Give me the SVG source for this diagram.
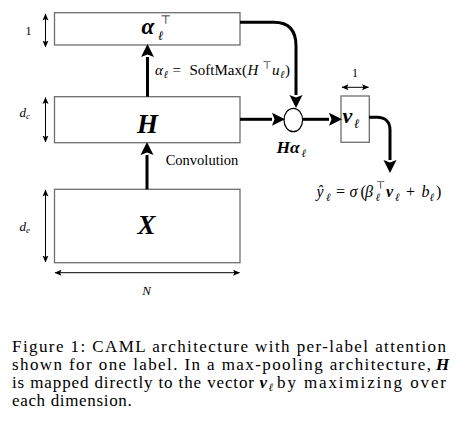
<svg xmlns="http://www.w3.org/2000/svg" width="468" height="431" viewBox="0 0 468 431">
<style>
text{font-family:"Liberation Serif","DejaVu Serif",serif;fill:#000}
.box{fill:#fff;stroke:#6e6e6e;stroke-width:1.3}
.conn{fill:none;stroke:#000;stroke-width:3}
.dim{fill:none;stroke:#000;stroke-width:1}
.bi{font-weight:bold;font-style:italic}
.it{font-style:italic}
.sym{font-family:"DejaVu Sans","Liberation Sans",sans-serif}
.cap{font-size:17px}
</style>
<defs>
<marker id="ah" markerUnits="userSpaceOnUse" markerWidth="14" markerHeight="14" refX="0" refY="6.5" orient="auto" viewBox="0 0 14 13">
<path d="M0,0 L13,6.5 L0,13 L2.5,6.5 z" fill="#000"/>
</marker>
<marker id="sh" markerUnits="userSpaceOnUse" markerWidth="8" markerHeight="8" refX="6.5" refY="3" orient="auto-start-reverse" viewBox="0 0 8 6">
<path d="M0,0 L7,3 L0,6 L1.5,3 z" fill="#000"/>
</marker>
</defs>
<rect width="468" height="431" fill="#fff"/>

<g id="node-alpha">
<rect class="box" x="54.5" y="12.7" width="185.5" height="32.3"/>
<text class="bi" x="141.5" y="34" font-size="23">α</text>
<text class="it" x="158" y="40" font-size="13">ℓ</text>
<text class="sym" x="160.5" y="23.5" font-size="12">⊤</text>
</g>

<g id="node-H">
<rect class="box" x="54.5" y="96.7" width="185.5" height="46"/>
<text class="bi" x="147.5" y="133" font-size="27" text-anchor="middle">H</text>
</g>

<g id="node-X">
<rect class="box" x="54.5" y="189.3" width="185.5" height="73.4"/>
<text class="bi" x="146.5" y="234" font-size="27" text-anchor="middle">X</text>
</g>

<g id="node-circle">
<ellipse cx="293.3" cy="120" rx="9.3" ry="11.7" fill="#fff" stroke="#000" stroke-width="1.2"/>
<text class="bi" x="276.5" y="153" font-size="17.5">Hα</text>
<text class="it" x="301.5" y="157" font-size="11">ℓ</text>
</g>

<g id="node-v">
<rect class="box" x="341" y="96" width="28.3" height="46.3"/>
<text class="bi" x="342.5" y="123" font-size="22">v</text>
<text class="it" x="354" y="128" font-size="13">ℓ</text>
</g>

<g id="dimensions">
<line class="dim" x1="45.5" y1="14" x2="45.5" y2="47" marker-start="url(#sh)" marker-end="url(#sh)"/>
<line class="dim" x1="45.5" y1="97.5" x2="45.5" y2="142" marker-start="url(#sh)" marker-end="url(#sh)"/>
<line class="dim" x1="45.5" y1="190" x2="45.5" y2="262" marker-start="url(#sh)" marker-end="url(#sh)"/>
<line class="dim" x1="55" y1="272.7" x2="239.5" y2="272.7" marker-start="url(#sh)" marker-end="url(#sh)"/>
<line class="dim" x1="342" y1="87.3" x2="368.5" y2="87.3" marker-start="url(#sh)" marker-end="url(#sh)"/>
<text x="25.5" y="35" font-size="12">1</text>
<text class="it" x="19.5" y="117" font-size="13">d<tspan font-size="9" dy="2">c</tspan></text>
<text class="it" x="19.5" y="231" font-size="13">d<tspan font-size="9" dy="2">e</tspan></text>
<text class="it" x="146.5" y="295" font-size="13" text-anchor="middle">N</text>
<text x="355" y="77" font-size="12" text-anchor="middle">1</text>
</g>

<g id="connectors">
<path class="conn" d="M240,22.3 H274 C288,22.3 296,30 296,46 V95" marker-end="url(#ah)"/>
<path class="conn" d="M240,119.3 H272" marker-end="url(#ah)"/>
<path class="conn" d="M302.7,119.3 H329" marker-end="url(#ah)"/>
<path class="conn" d="M369,117.3 H377 C385,117.3 390,122 390,130 V160" marker-end="url(#ah)"/>
<path class="conn" d="M147.5,96.7 V57" marker-end="url(#ah)"/>
<path class="conn" d="M147,189.3 V155" marker-end="url(#ah)"/>
</g>

<g id="labels">
<text class="it" x="155" y="75" font-size="15">α</text>
<text class="it" x="163.5" y="78" font-size="10.5">ℓ</text>
<text x="172.5" y="75" font-size="15">=</text>
<text x="189.5" y="75" font-size="15">SoftMax(</text>
<text class="it" x="247.5" y="75" font-size="15">H</text>
<text class="sym" x="262.5" y="69" font-size="10.5">⊤</text>
<text class="it" x="272" y="75" font-size="15">u</text>
<text class="it" x="280" y="78" font-size="10.5">ℓ</text>
<text x="285" y="75" font-size="15">)</text>

<text x="165.7" y="165" font-size="14.5">Convolution</text>

<text class="it" x="316.5" y="197" font-size="16">ŷ</text>
<text class="it" x="326" y="200.5" font-size="11">ℓ</text>
<text x="336" y="197" font-size="16">=</text>
<text class="it" x="349.5" y="197" font-size="16">σ</text>
<text x="360.5" y="197" font-size="16">(</text>
<text class="it" x="365" y="197" font-size="16">β</text>
<text class="it" x="375.5" y="201" font-size="11">ℓ</text>
<text class="sym" x="376" y="189" font-size="10.5">⊤</text>
<text class="bi" x="386" y="197" font-size="16">v</text>
<text class="it" x="395" y="200.5" font-size="11">ℓ</text>
<text x="406" y="197" font-size="16">+</text>
<text class="it" x="421.5" y="197" font-size="16">b</text>
<text class="it" x="429.5" y="200.5" font-size="11">ℓ</text>
<text x="436" y="197" font-size="16">)</text>
</g>

<g id="caption">
<text class="cap" x="12" y="351.5" textLength="434" lengthAdjust="spacing">Figure 1:  CAML architecture with per-label attention</text>
<text class="cap" x="12" y="369.5" textLength="419" lengthAdjust="spacing">shown for one label. In a max-pooling architecture,</text>
<text class="cap bi" x="436" y="369.5">H</text>
<text class="cap" x="12" y="387.5" textLength="242" lengthAdjust="spacing">is mapped directly to the vector</text>
<text class="cap bi" x="259.5" y="387.5">v</text>
<text class="it" x="268.5" y="390.5" font-size="11">ℓ</text>
<text class="cap" x="277" y="387.5" textLength="169" lengthAdjust="spacing">by maximizing over</text>
<text class="cap" x="12" y="405.5" textLength="119.7" lengthAdjust="spacing">each dimension.</text>
</g>
</svg>
